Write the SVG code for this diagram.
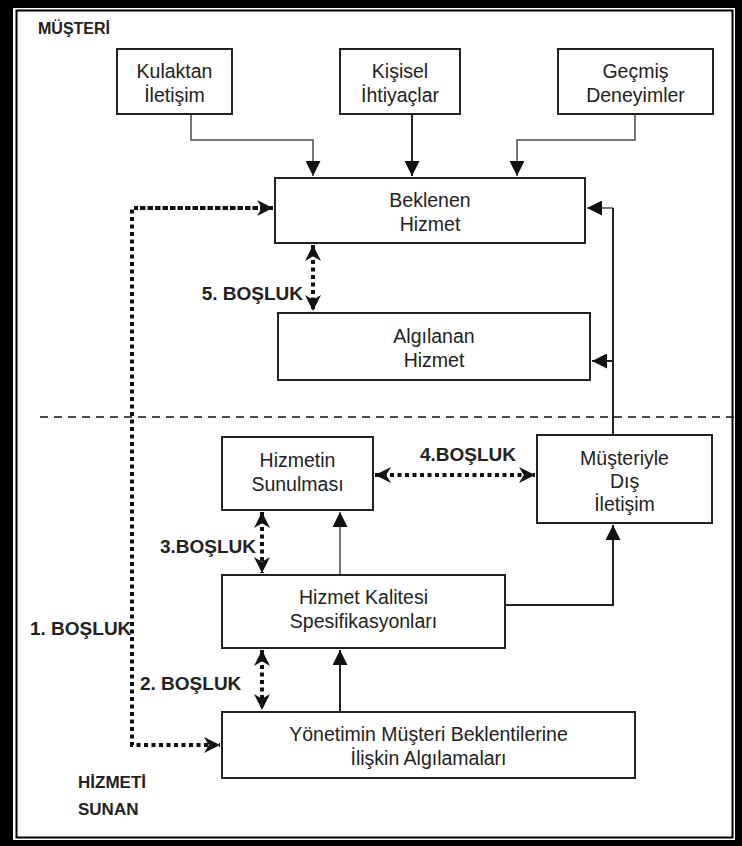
<svg xmlns="http://www.w3.org/2000/svg" width="742" height="846" viewBox="0 0 742 846">
  <style>
    .box { fill: #fff; stroke: #222; stroke-width: 2; }
    .t { font-family: "Liberation Sans", Arial, sans-serif; font-size: 19.5px; fill: #222; text-anchor: middle; }
    .lbl { font-family: "Liberation Sans", Arial, sans-serif; font-size: 17px; font-weight: bold; fill: #222; }
    .gap { font-family: "Liberation Sans", Arial, sans-serif; font-size: 19px; font-weight: bold; fill: #222; }
    .solid { fill: none; stroke: #222; stroke-width: 2; }
    .gray { fill: none; stroke: #777; stroke-width: 2; }
    .dot { fill: none; stroke: #111; stroke-width: 4; stroke-dasharray: 4 3.5; }
  </style>
  <defs>
    <marker id="arr" viewBox="0 0 10 10" refX="10" refY="5" markerWidth="15" markerHeight="15" markerUnits="userSpaceOnUse" orient="auto">
      <path d="M0,0 L10,5 L0,10 Z" fill="#111"/>
    </marker>
    <marker id="arrD" viewBox="0 0 10 10" refX="10" refY="5" markerWidth="16" markerHeight="16" markerUnits="userSpaceOnUse" orient="auto-start-reverse">
      <path d="M0,0 L10,5 L0,10 L3,5 Z" fill="#111"/>
    </marker>
  </defs>

  <rect width="742" height="846" fill="#fff"/>
  <!-- double frame: heavy outer band, thin inner rule -->
  <path d="M0,0 H742 V846 H0 Z M13,8 V840 H735 V8 Z" fill="#000" fill-rule="evenodd"/>
  <rect x="16.5" y="10.5" width="716" height="827" fill="none" stroke="#000" stroke-width="2"/>

  <text class="lbl" x="38" y="34" style="font-size:16px">MÜŞTERİ</text>
  <text class="lbl" x="78" y="788">HİZMETİ</text>
  <text class="lbl" x="78" y="815">SUNAN</text>

  <!-- divider between customer and provider sides -->
  <line x1="40" y1="417" x2="735" y2="417" stroke="#111" stroke-width="1.5" stroke-dasharray="8 6"/>

  <g id="connectors">
    <path class="gray" d="M191,114 V140 H313 V176" marker-end="url(#arr)"/>
    <path class="solid" d="M412,114 V176" marker-end="url(#arr)"/>
    <path class="gray" d="M635,114 V140 H517 V176" marker-end="url(#arr)"/>
    <path class="gray" d="M613,208 H587" marker-end="url(#arr)"/>
    <path class="solid" d="M613,208 V435"/>
    <path class="solid" d="M613,361 H592" marker-end="url(#arr)"/>
    <path class="solid" d="M505,605 H613 V525" marker-end="url(#arr)"/>
    <path class="gray" d="M340,575 V512" marker-end="url(#arr)"/>
    <path class="solid" d="M340,712 V650" marker-end="url(#arr)"/>
    <!-- gaps -->
    <path class="dot" d="M313,245 V311" marker-start="url(#arrD)" marker-end="url(#arrD)"/>
    <path class="dot" d="M375,475 H535" marker-start="url(#arrD)" marker-end="url(#arrD)"/>
    <path class="dot" d="M262,512 V573" marker-start="url(#arrD)" marker-end="url(#arrD)"/>
    <path class="dot" d="M262,650 V710" marker-start="url(#arrD)" marker-end="url(#arrD)"/>
    <path class="dot" d="M273,208 H132 V745 H220" marker-end="url(#arrD)"/>
    <path class="dot" d="M140,208 H273" marker-end="url(#arrD)"/>
  </g>

  <text class="gap" x="303" y="300" text-anchor="end">5. BOŞLUK</text>
  <text class="gap" x="420" y="461">4.BOŞLUK</text>
  <text class="gap" x="256" y="553" text-anchor="end">3.BOŞLUK</text>
  <text class="gap" x="30" y="635">1. BOŞLUK</text>
  <text class="gap" x="140" y="690">2. BOŞLUK</text>

  <g id="kulaktan">
    <rect class="box" x="117" y="49" width="115" height="65"/>
    <text class="t" x="174.5" y="78">Kulaktan</text>
    <text class="t" x="174.5" y="102">İletişim</text>
  </g>
  <g id="kisisel">
    <rect class="box" x="340" y="49" width="120" height="65"/>
    <text class="t" x="400" y="78">Kişisel</text>
    <text class="t" x="400" y="102">İhtiyaçlar</text>
  </g>
  <g id="gecmis">
    <rect class="box" x="558" y="49" width="155" height="65"/>
    <text class="t" x="635.5" y="78">Geçmiş</text>
    <text class="t" x="635.5" y="102">Deneyimler</text>
  </g>
  <g id="beklenen">
    <rect class="box" x="275" y="178" width="310" height="65"/>
    <text class="t" x="430" y="207">Beklenen</text>
    <text class="t" x="430" y="231">Hizmet</text>
  </g>
  <g id="algilanan">
    <rect class="box" x="278" y="313" width="312" height="67"/>
    <text class="t" x="434" y="343">Algılanan</text>
    <text class="t" x="434" y="367">Hizmet</text>
  </g>
  <g id="sunulmasi">
    <rect class="box" x="222" y="437" width="151" height="73"/>
    <text class="t" x="297.5" y="467">Hizmetin</text>
    <text class="t" x="297.5" y="491">Sunulması</text>
  </g>
  <g id="iletisim">
    <rect class="box" x="537" y="435" width="175" height="88"/>
    <text class="t" x="624.5" y="465">Müşteriyle</text>
    <text class="t" x="624.5" y="488">Dış</text>
    <text class="t" x="624.5" y="511">İletişim</text>
  </g>
  <g id="spesifikasyon">
    <rect class="box" x="222" y="575" width="283" height="73"/>
    <text class="t" x="363.5" y="604">Hizmet Kalitesi</text>
    <text class="t" x="363.5" y="628">Spesifikasyonları</text>
  </g>
  <g id="yonetim">
    <rect class="box" x="222" y="712" width="413" height="66"/>
    <text class="t" x="428.5" y="741">Yönetimin Müşteri Beklentilerine</text>
    <text class="t" x="428.5" y="765">İlişkin Algılamaları</text>
  </g>
</svg>
